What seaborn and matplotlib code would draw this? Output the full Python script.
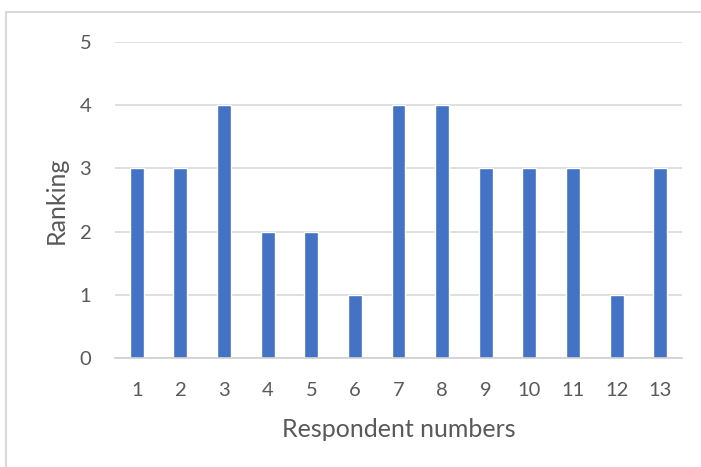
import pandas as pd
import seaborn as sns
import matplotlib.pyplot as plt
from matplotlib.patches import Rectangle

# Datos del grafico
respondentes = [str(i) for i in range(1, 14)]
ranking = [3, 3, 4, 2, 2, 1, 4, 4, 3, 3, 3, 1, 3]
yticks = [0, 1, 2, 3, 4, 5]

df = pd.DataFrame({'Respondent numbers': respondentes, 'Ranking': ranking})

sns.set_style('white')
plt.rcParams['font.family'] = ['Lato', 'DejaVu Sans']

fig = plt.figure(figsize=(7.01, 4.67), dpi=100)
ax = fig.add_axes([0.164, 0.2334, 0.809, 0.6766])

sns.barplot(data=df, x='Respondent numbers', y='Ranking', color='#4472C4',
            width=0.32, saturation=1, ax=ax, zorder=3)

ax.set_ylim(0, 5)
ax.set_xlim(-0.5, len(respondentes) - 0.5)
ax.set_yticks(yticks)
ax.yaxis.grid(True, color='#d9d9d9', linewidth=1.2, zorder=0)
ax.set_axisbelow(True)

for s in ['top', 'right', 'left']:
    ax.spines[s].set_visible(False)
ax.spines['bottom'].set_color('#d0d0d0')
ax.spines['bottom'].set_linewidth(1.2)
ax.spines['bottom'].set_zorder(4)

ax.tick_params(axis='both', length=0, labelsize=14.5, labelcolor='#595959')
ax.tick_params(axis='y', pad=17)
ax.tick_params(axis='x', pad=17)

ax.set_xlabel('Respondent numbers', fontsize=18, color='#595959')
ax.set_ylabel('Ranking', fontsize=18, color='#595959')
ax.xaxis.set_label_coords(0.5, -0.19)
ax.yaxis.set_label_coords(-0.083, 0.5)

# borde del grafico
fig.patches.append(Rectangle((6 / 701, -0.1), 1.1, (467 - 12) / 467 + 0.1,
                             transform=fig.transFigure, fill=False,
                             edgecolor='#d9d9d9', linewidth=1.5))

fig.savefig('out.png', dpi=100)
